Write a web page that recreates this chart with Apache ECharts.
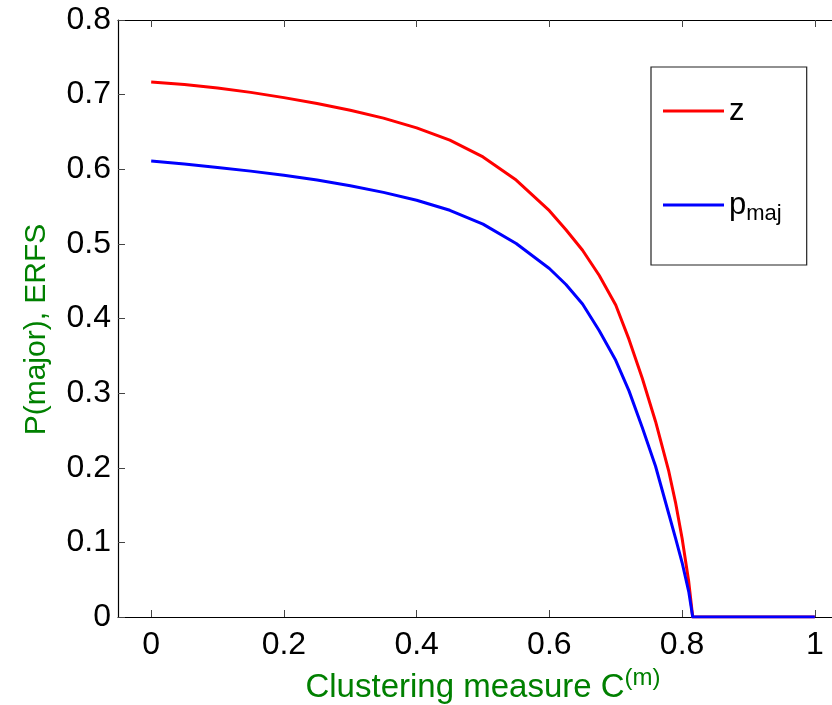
<!DOCTYPE html>
<html>
<head>
<meta charset="utf-8">
<script src="https://cdn.jsdelivr.net/npm/echarts@6/dist/echarts.min.js"></script>
<style>html,body{margin:0;padding:0;background:#fff}#c{width:832px;height:705px}</style>
</head>
<body>
<div id="c"></div>
<script>
const xTicks = [0, 0.2, 0.4, 0.6, 0.8, 1];
const yTicks = [0, 0.1, 0.2, 0.3, 0.4, 0.5, 0.6, 0.7, 0.8];
const cX    = [0, 0.05, 0.1, 0.15, 0.2, 0.25, 0.3, 0.35, 0.4, 0.45, 0.5, 0.55, 0.6, 0.625, 0.65, 0.675, 0.7, 0.72, 0.74, 0.76, 0.78, 0.79, 0.8, 0.81, 0.816, 0.9, 1.0];
const zVals = [0.717, 0.7135, 0.709, 0.703, 0.696, 0.688, 0.679, 0.6685, 0.6555, 0.639, 0.6165, 0.5855, 0.5445, 0.519, 0.4915, 0.458, 0.418, 0.372, 0.320, 0.262, 0.195, 0.154, 0.1055, 0.0475, 0, 0, 0];
const pVals = [0.611, 0.607, 0.6025, 0.5975, 0.592, 0.5855, 0.578, 0.569, 0.5585, 0.545, 0.5265, 0.5005, 0.467, 0.4455, 0.4195, 0.384, 0.344, 0.303, 0.254, 0.202, 0.138, 0.106, 0.073, 0.034, 0, 0, 0];
const seriesNames = ['z', 'p_maj'];

const font = "'Liberation Sans', Arial, Helvetica, sans-serif";
const chart = echarts.init(document.getElementById('c'), null, {renderer: 'canvas'});
const pairs = v => cX.map((x, i) => [x, v[i]]);
chart.setOption({
  animation: false,
  backgroundColor: '#fff',
  grid: {left: 118, top: 20, width: 730, bottom: 88, containLabel: false, outerBoundsMode: 'none'},
  legend: {
    orient: 'vertical', left: 651, top: 67, align: 'left',
    backgroundColor: '#fff', borderColor: '#222', borderWidth: 1.2,
    padding: [27, 25, 40, 12], itemGap: 57,
    itemWidth: 61, itemHeight: 3,
    data: [{name: 'z', icon: 'rect'}, {name: 'p_maj', icon: 'rect'}],
    formatter: n => n === 'p_maj' ? '{t|p}{s|maj}' : '{t|z}',
    textStyle: {
      fontFamily: font, fontSize: 31, color: '#000', lineHeight: 34,
      rich: {
        t: {fontFamily: font, fontSize: 31, color: '#000', lineHeight: 34},
        s: {fontFamily: font, fontSize: 22, color: '#000', lineHeight: 34, padding: [18, 0, 0, 0]}
      }
    }
  },
  xAxis: [{
    type: 'value', min: -0.05, max: 1.05, position: 'bottom',
    name: 'Clustering measure C{sup|(m)}', nameLocation: 'middle', nameGap: 44,
    nameTextStyle: {fontFamily: font, fontSize: 33, color: '#008000',
      rich: {sup: {fontFamily: font, fontSize: 24, color: '#008000', padding: [0, 0, 20, 0]}}},
    axisLine: {show: true, onZero: false, lineStyle: {color: '#000', width: 1.2}},
    axisTick: {show: true, inside: true, length: 7, customValues: xTicks, lineStyle: {color: '#444'}},
    axisLabel: {customValues: xTicks, margin: 12, fontFamily: font, fontSize: 32, color: '#000', formatter: v => String(v)},
    splitLine: {show: false}
  }, {
    type: 'value', min: -0.05, max: 1.05, position: 'top',
    axisLine: {show: true, onZero: false, lineStyle: {color: '#000', width: 1.2}},
    axisTick: {show: true, inside: true, length: 7, customValues: xTicks, lineStyle: {color: '#444'}},
    axisLabel: {show: false},
    splitLine: {show: false}
  }],
  yAxis: [{
    type: 'value', min: 0, max: 0.8, interval: 0.1, position: 'left',
    name: 'P(major), ERFS', nameLocation: 'middle', nameGap: 66, nameRotate: 90,
    nameTextStyle: {fontFamily: font, fontSize: 30, color: '#008000', padding: [0, 22, 0, 0]},
    axisLine: {show: true, onZero: false, lineStyle: {color: '#000', width: 1.2}},
    axisTick: {show: true, inside: true, length: 7, lineStyle: {color: '#444'}},
    axisLabel: {margin: 7, fontFamily: font, fontSize: 32, color: '#000', formatter: v => String(+v.toFixed(1))},
    splitLine: {show: false}
  }],
  series: [
    {name: seriesNames[0], type: 'line', data: pairs(zVals), showSymbol: false,
     lineStyle: {color: '#ff0000', width: 3, join: 'round'}, itemStyle: {color: '#ff0000'}},
    {name: seriesNames[1], type: 'line', data: pairs(pVals), showSymbol: false,
     lineStyle: {color: '#0000ff', width: 3, join: 'round'}, itemStyle: {color: '#0000ff'}}
  ]
});
</script>
</body>
</html>
